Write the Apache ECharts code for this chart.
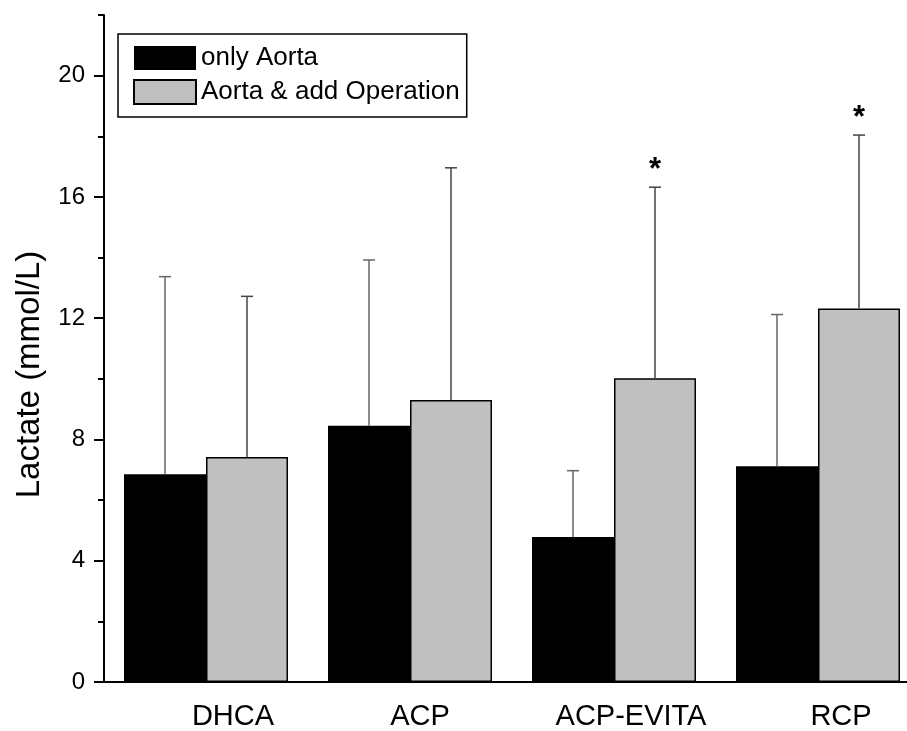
<!DOCTYPE html>
<html>
<head>
<meta charset="utf-8">
<script src="https://cdn.jsdelivr.net/npm/echarts@6/dist/echarts.min.js"></script>
<style>
html,body{margin:0;padding:0;background:#fff;}
#chart{width:907px;height:731px;}
</style>
</head>
<body>
<div id="chart"></div>
<script>
// ---- data ----
const categories = ['DHCA', 'ACP', 'ACP-EVITA', 'RCP'];
const seriesNames = ['only Aorta', 'Aorta & add Operation'];
const onlyAorta = [6.85, 8.45, 4.78, 7.12];
const onlyAortaErrTop = [13.37, 13.92, 6.97, 12.12];
const aortaAddOp = [7.42, 9.30, 10.02, 12.32];
const aortaAddOpErrTop = [12.72, 16.96, 16.32, 18.04];
const aortaAddOpSignificant = [false, false, true, true];
const yMajorTicks = [0, 4, 8, 12, 16, 20];
const yMinorTicks = [2, 6, 10, 14, 18, 22];
const yAxisTitle = 'Lactate (mmol/L)';
const sigMark = '*';

// ---- styling / layout ----
const FONT = '"Liberation Sans", Arial, sans-serif';
const BAR_W = 82;
const labelShift = [27, 10, 17, 23]; // px nudges of category labels

const chart = echarts.init(document.getElementById('chart'), null, {renderer: 'canvas'});

function errSeries(values, tops, sig, offset, color) {
  const data = values.map((v, i) => [i, v, tops[i], sig ? (sig[i] ? 1 : 0) : 0]);
  return {
    type: 'custom',
    z: 5,
    silent: true,
    clip: false,
    data: data,
    renderItem: function (params, api) {
      const p0 = api.coord([api.value(0), api.value(1)]);
      const p1 = api.coord([api.value(0), api.value(2)]);
      const x = p0[0] + offset;
      const children = [
        {type: 'line', shape: {x1: x, y1: p0[1], x2: x, y2: p1[1]}, style: {stroke: color, lineWidth: 1.5}},
        {type: 'line', shape: {x1: x - 6, y1: p1[1], x2: x + 6, y2: p1[1]}, style: {stroke: color, lineWidth: 1.5}}
      ];
      if (api.value(3)) {
        children.push({
          type: 'text',
          style: {x: x, y: p1[1] - 17, text: sigMark, fill: '#000', font: 'bold 31px ' + FONT,
                  align: 'center', verticalAlign: 'middle'}
        });
      }
      return {type: 'group', children: children};
    }
  };
}

const rich = {};
labelShift.forEach((s, i) => { rich['l' + i] = {padding: [0, 0, 0, 2 * s], fontSize: 29, color: '#000', fontFamily: FONT}; });

const option = {
  animation: false,
  backgroundColor: '#fff',
  grid: {left: 104, width: 816, top: 15, bottom: 49, containLabel: false, outerBoundsMode: 'none'},
  legend: {
    orient: 'vertical', left: 118, top: 34,
    padding: [11, 7, 12, 15], itemGap: 8, itemWidth: 62, itemHeight: 24,
    borderColor: '#000', borderWidth: 1.5, backgroundColor: '#fff',
    icon: 'rect',
    textStyle: {fontSize: 26, color: '#000', fontFamily: FONT},
    data: seriesNames
  },
  xAxis: {
    type: 'category',
    data: categories,
    axisLine: {show: true, lineStyle: {color: '#000', width: 2}},
    axisTick: {show: false},
    splitLine: {show: false},
    axisLabel: {
      interval: 0,
      hideOverlap: false,
      margin: 20,
      fontSize: 29, color: '#000', fontFamily: FONT,
      formatter: function (v, i) { return '{l' + i + '|' + v + '}'; },
      rich: rich
    }
  },
  yAxis: [{
    type: 'value', min: 0, max: 22, position: 'left',
    name: yAxisTitle, nameLocation: 'middle', nameGap: 58,
    nameTextStyle: {fontSize: 33, color: '#000', fontFamily: FONT, padding: [0, 52, 0, 0]},
    axisLine: {show: true, lineStyle: {color: '#000', width: 2}},
    axisTick: {show: true, length: 10, lineStyle: {color: '#000', width: 2}, customValues: yMajorTicks},
    axisLabel: {margin: 19, fontSize: 24, color: '#000', fontFamily: FONT, customValues: yMajorTicks},
    splitLine: {show: false}
  }, {
    type: 'value', min: 0, max: 22, position: 'left',
    axisLine: {show: false},
    axisTick: {show: true, length: 6, lineStyle: {color: '#000', width: 2}, customValues: yMinorTicks},
    axisLabel: {show: false},
    splitLine: {show: false}
  }],
  series: [{
    name: seriesNames[0], type: 'bar', data: onlyAorta,
    barWidth: BAR_W, barGap: '0%',
    itemStyle: {color: '#000'}
  }, {
    name: seriesNames[1], type: 'bar', data: aortaAddOp,
    barWidth: BAR_W, barGap: '0%',
    itemStyle: {color: '#c0c0c0', borderColor: '#000', borderWidth: 1.5}
  },
  errSeries(onlyAorta, onlyAortaErrTop, null, -BAR_W / 2, '#666'),
  errSeries(aortaAddOp, aortaAddOpErrTop, aortaAddOpSignificant, BAR_W / 2, '#444')
  ]
};
chart.setOption(option);
</script>
</body>
</html>
